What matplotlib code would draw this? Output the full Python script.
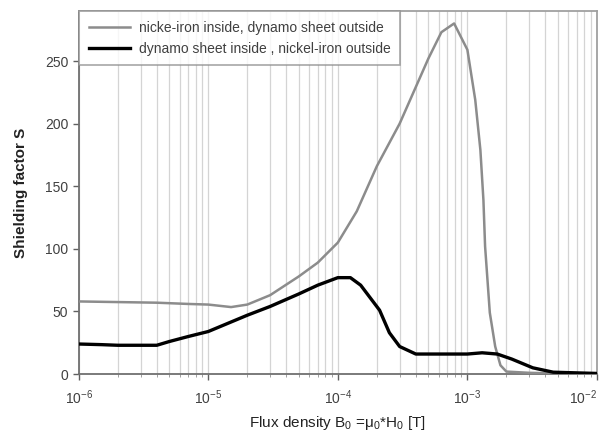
import matplotlib
matplotlib.use("Agg")
import matplotlib.pyplot as plt
from matplotlib.ticker import LogLocator, FixedLocator, NullFormatter

# Data
b_outer = [1e-6, 2e-6, 4e-6, 7e-6, 1e-5, 1.5e-5, 2e-5, 3e-5, 5e-5, 7e-5, 1e-4, 1.4e-4,
           2e-4, 3e-4, 5e-4, 6.3e-4, 7.9e-4, 1e-3, 1.15e-3, 1.26e-3, 1.33e-3, 1.37e-3,
           1.49e-3, 1.64e-3, 1.8e-3, 2e-3, 3e-3, 5e-3, 1e-2]
s_nickel_inside = [58, 57.5, 57, 56, 55.5, 53.5, 55.5, 63, 78, 89, 105, 130,
                   166, 200, 252, 273, 280, 259, 219, 179, 139, 102,
                   49, 22, 7, 2, 1, 0.5, 0.5]

b_inner = [1e-6, 1.5e-6, 2e-6, 4e-6, 5e-6, 7e-6, 1e-5, 2e-5, 3e-5, 5e-5, 7e-5, 1e-4,
           1.25e-4, 1.5e-4, 2.1e-4, 2.5e-4, 3e-4, 4e-4, 1e-3, 1.3e-3, 1.7e-3, 2.2e-3,
           3.2e-3, 4.6e-3, 1e-2]
s_dynamo_inside = [24, 23.5, 23, 23, 26, 30, 34, 47, 54, 64, 71, 77,
                   77, 71, 51, 33, 22, 16, 16, 17, 16, 12,
                   5, 1.5, 0.5]

labels = ["nicke-iron inside, dynamo sheet outside",
          "dynamo sheet inside , nickel-iron outside"]
x_ticks = [1e-6, 1e-5, 1e-4, 1e-3, 1e-2]
x_tick_labels = [r"$10^{-6}$", r"$10^{-5}$", r"$10^{-4}$", r"$10^{-3}$", r"$10^{-2}$"]
y_ticks = [0, 50, 100, 150, 200, 250]

plt.rcParams['font.family'] = ['Liberation Sans', 'DejaVu Sans']
plt.rcParams['mathtext.fontset'] = 'custom'
plt.rcParams['mathtext.rm'] = 'Liberation Sans'
plt.rcParams['mathtext.it'] = 'Liberation Sans:italic'

fig = plt.figure(figsize=(6.06, 4.37), dpi=100)
ax = fig.add_axes([0.130, 0.144, 0.855, 0.831])

ax.plot(b_outer, s_nickel_inside, color='#8c8c8c', lw=1.8, label=labels[0], zorder=3)
ax.plot(b_inner, s_dynamo_inside, color='black', lw=2.4, label=labels[1], zorder=4)

ax.set_xscale('log')
ax.set_xlim(1e-6, 1e-2)
ax.set_ylim(0, 290)

ax.xaxis.set_major_locator(FixedLocator(x_ticks))
ax.set_xticklabels(x_tick_labels)
ax.xaxis.set_minor_locator(LogLocator(base=10, subs=range(2, 10), numticks=20))
ax.xaxis.set_minor_formatter(NullFormatter())
ax.set_yticks(y_ticks)
ax.get_xticklabels()[-1].set_horizontalalignment('right')

ax.grid(True, which='both', axis='x', color='#d4d4d4', lw=0.9, zorder=0)
ax.set_axisbelow(True)

for s in ['left', 'bottom']:
    ax.spines[s].set_color('#707070')
    ax.spines[s].set_linewidth(1.3)
for s in ['top', 'right']:
    ax.spines[s].set_color('#a0a0a0')
    ax.spines[s].set_linewidth(1.3)

ax.tick_params(axis='both', which='major', labelsize=10, colors='#606060',
               labelcolor='#404040', length=4, width=1)
ax.tick_params(axis='x', which='minor', length=2, colors='#909090')
ax.tick_params(axis='x', pad=6)

ax.set_ylabel("Shielding factor S", fontsize=11, fontweight='bold', color='#222222', labelpad=12)
ax.set_xlabel(r"Flux density B$_0$ =μ$_0$*H$_0$ [T]", fontsize=11, color='#222222', labelpad=5)

leg = ax.legend(loc='upper left', bbox_to_anchor=(0.0, 1.0), fontsize=10, frameon=True,
                fancybox=False, edgecolor='#909090', handlelength=3.0, borderpad=0.7,
                labelspacing=0.5, borderaxespad=0.0, handletextpad=0.6)
leg.get_frame().set_linewidth(1.2)
for t in leg.get_texts():
    t.set_color('#404040')

fig.savefig("out.png", dpi=100)
